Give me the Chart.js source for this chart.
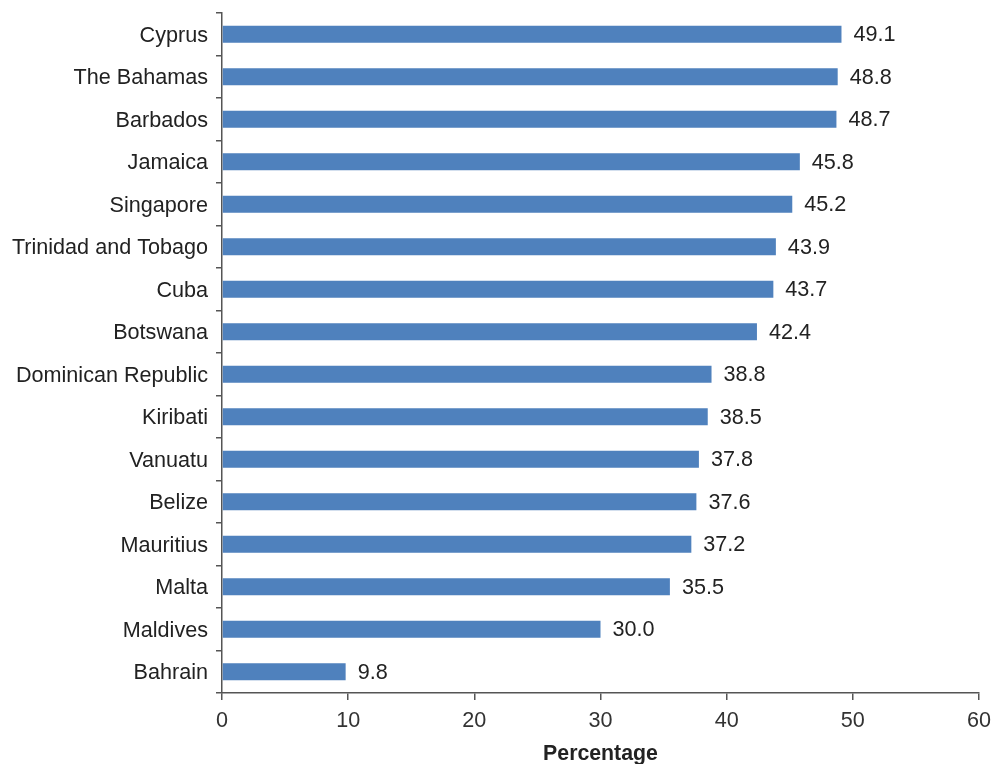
<!DOCTYPE html>
<html>
<head>
<meta charset="utf-8">
<script src="https://cdn.jsdelivr.net/npm/chart.js@4"></script>
<style>
  html, body { margin: 0; padding: 0; background: #fff; }
  #wrap { width: 992px; height: 764px; }
</style>
</head>
<body>
<div id="wrap"><canvas id="grafico"></canvas></div>
<script>
const paises = ['Cyprus', 'The Bahamas', 'Barbados', 'Jamaica', 'Singapore', 'Trinidad and Tobago', 'Cuba', 'Botswana',
  'Dominican Republic', 'Kiribati', 'Vanuatu', 'Belize', 'Mauritius', 'Malta', 'Maldives', 'Bahrain'];
const porcentajes = [49.1, 48.8, 48.7, 45.8, 45.2, 43.9, 43.7, 42.4, 38.8, 38.5, 37.8, 37.6, 37.2, 35.5, 30.0, 9.8];
const marcasX = [0, 10, 20, 30, 40, 50, 60];

const fuente = { family: 'Liberation Sans, Arial, sans-serif', size: 21.6 };

// etiquetas de valor a la derecha de cada barra
const etiquetasValor = {
  id: 'etiquetasValor',
  afterDatasetsDraw(chart) {
    const c = chart.ctx;
    const meta = chart.getDatasetMeta(0);
    c.save();
    c.font = fuente.size + 'px ' + fuente.family;
    c.fillStyle = '#222';
    c.textBaseline = 'middle';
    c.textAlign = 'left';
    meta.data.forEach((barra, i) => {
      c.fillText(porcentajes[i].toFixed(1), barra.x + 12, barra.y + 1);
    });
    c.restore();
  }
};

const ctx = document.getElementById('grafico');

new Chart(ctx, {
  type: 'bar',
  data: {
    labels: paises,
    datasets: [{
      data: porcentajes,
      backgroundColor: '#4F81BD',
      borderWidth: 0,
      categoryPercentage: 0.8,
      barPercentage: 0.5
    }]
  },
  plugins: [etiquetasValor],
  options: {
    indexAxis: 'y',
    responsive: true,
    maintainAspectRatio: false,
    animation: false,
    layout: { padding: { top: 13, right: 13, left: 0, bottom: 0 } },
    plugins: {
      legend: { display: false },
      tooltip: { enabled: false }
    },
    scales: {
      x: {
        min: 0,
        max: 60,
        afterBuildTicks(axis) {
          axis.ticks = marcasX.map(v => ({ value: v }));
        },
        afterFit(axis) {
          axis.height = 71;
          axis.paddingLeft = 0;
          axis.paddingRight = 0;
        },
        grid: { drawOnChartArea: false, tickLength: 7, color: '#555', lineWidth: 1.5 },
        border: { color: '#555', width: 1.5 },
        ticks: { color: '#333', font: fuente, padding: 8 },
        title: {
          display: true,
          text: 'Percentage',
          color: '#222',
          font: { family: fuente.family, size: 21.3, weight: 'bold', lineHeight: 0.9 },
          padding: { top: 7, bottom: 0 }
        }
      },
      y: {
        afterFit(axis) {
          axis.width = 222;
          axis.paddingTop = 0;
          axis.paddingBottom = 0;
        },
        grid: { drawOnChartArea: false, tickLength: 6, color: '#555', lineWidth: 1.5, offset: true },
        border: { color: '#555', width: 1.5 },
        ticks: { color: '#222', font: fuente, padding: 8, labelOffset: 1.5 }
      }
    }
  }
});
</script>
</body>
</html>
